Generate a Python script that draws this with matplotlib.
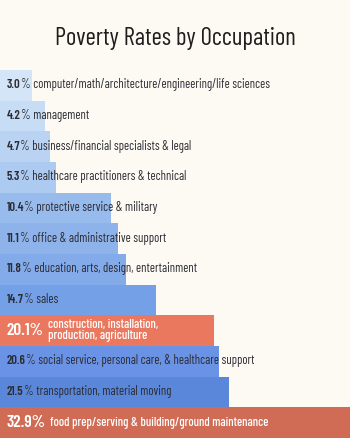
import matplotlib
matplotlib.use("Agg")
import matplotlib.pyplot as plt

occupations = [
    "computer/math/architecture/engineering/life sciences",
    "management",
    "business/financial specialists & legal",
    "healthcare practitioners & technical",
    "protective service & military",
    "office & administrative support",
    "education, arts, design, entertainment",
    "sales",
    "construction, installation,\nproduction, agriculture",
    "social service, personal care, & healthcare support",
    "transportation, material moving",
    "food prep/serving & building/ground maintenance",
]
rates = [3.0, 4.2, 4.7, 5.3, 10.4, 11.1, 11.8, 14.7, 20.1, 20.6, 21.5, 32.9]
highlight = [False] * 8 + [True, False, False, True]
bar_colors = ["#d4e5f8", "#c7dcf5", "#bad3f2", "#adcaf0", "#98bbed", "#8eb3eb",
              "#83aae9", "#74a0e7", "#e9785f", "#6b93e5", "#5b87da", "#d06b55"]

bg = "#fdfaf3"
dark = "#2b2b33"
fam = ["Barlow Condensed", "DejaVu Sans"]

fig = plt.figure(figsize=(3.5, 4.38), dpi=100, facecolor=bg)
ax = fig.add_axes([0, 0, 1, 368 / 438])
ax.set_facecolor(bg)

y = list(range(len(rates)))
ax.barh(y, rates, height=1.0, color=bar_colors, edgecolor="none")
ax.set_xlim(0, max(rates))
ax.set_ylim(len(rates) - 0.5, -0.5)
ax.axis("off")

for i, (r, lab, hl) in enumerate(zip(rates, occupations, highlight)):
    if hl:
        num = ax.annotate(f"{r:.1f}%", (0, i), xytext=(5, 0), textcoords="offset points",
                          ha="left", va="center", fontsize=12.5, fontweight=600,
                          color="white", family=fam)
        ax.annotate(lab, (1, 0.5), xycoords=num, xytext=(3, 0), textcoords="offset points",
                    ha="left", va="center", fontsize=9, fontweight=500,
                    color="white", family=fam, linespacing=0.9)
    else:
        num = ax.annotate(f"{r:.1f}", (0, i), xytext=(5, 0), textcoords="offset points",
                          ha="left", va="center", fontsize=9, fontweight=600,
                          color=dark, family=fam)
        ax.annotate("% " + lab, (1, 0), xycoords=num, xytext=(0, 0), textcoords="offset points",
                    ha="left", va="bottom", fontsize=9, color=dark, family=fam)

fig.text(0.5, 1 - 38 / 438, "Poverty Rates by Occupation", ha="center", va="center",
         fontsize=17.8, color="#1e1e1e", family=fam)

fig.savefig("out.png", dpi=100, facecolor=bg)
